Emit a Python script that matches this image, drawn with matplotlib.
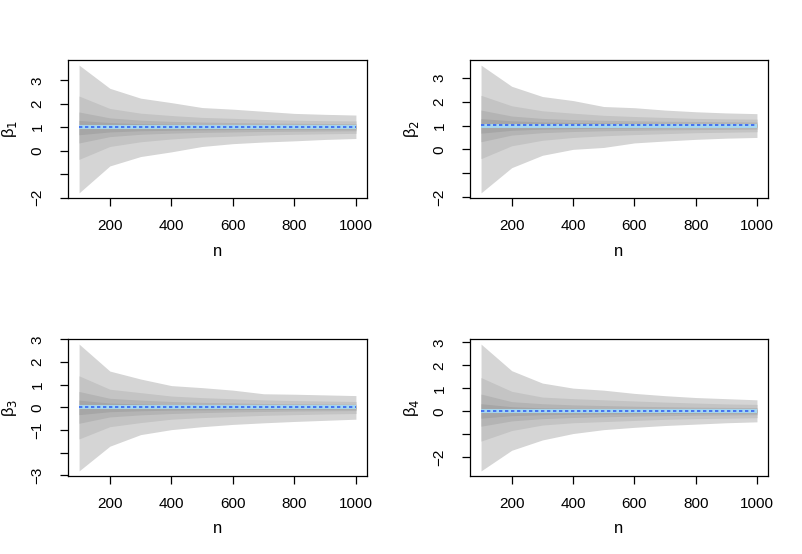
import matplotlib
matplotlib.use('Agg')
import matplotlib.pyplot as plt

plt.rcParams['font.family'] = ['Liberation Sans', 'DejaVu Sans']

n = [100, 200, 300, 400, 500, 600, 700, 800, 900, 1000]

# true values of the coefficients
beta_true = [1, 1, 0, 0]
beta_names = ['β$_1$', 'β$_2$', 'β$_3$', 'β$_4$']

# bands, outer to inner: upper limits then lower limits
b1_upper = [[3.65, 2.66, 2.24, 2.05, 1.84, 1.77, 1.68, 1.59, 1.55, 1.52],
            [2.33, 1.80, 1.60, 1.50, 1.42, 1.38, 1.33, 1.30, 1.28, 1.27],
            [1.65, 1.40, 1.30, 1.25, 1.22, 1.20, 1.18, 1.17, 1.16, 1.15],
            [1.29, 1.20, 1.15, 1.13, 1.11, 1.10, 1.09, 1.08, 1.08, 1.07]]
b1_lower = [[-1.80, -0.65, -0.25, -0.05, 0.18, 0.30, 0.37, 0.42, 0.48, 0.52],
            [-0.37, 0.18, 0.38, 0.50, 0.58, 0.62, 0.67, 0.70, 0.72, 0.74],
            [0.33, 0.60, 0.70, 0.75, 0.78, 0.80, 0.82, 0.83, 0.84, 0.85],
            [0.68, 0.80, 0.85, 0.87, 0.89, 0.90, 0.91, 0.92, 0.92, 0.93]]

b2_upper = [[3.54, 2.65, 2.22, 2.05, 1.80, 1.75, 1.65, 1.58, 1.53, 1.50],
            [2.27, 1.83, 1.62, 1.52, 1.43, 1.38, 1.34, 1.30, 1.28, 1.27],
            [1.65, 1.40, 1.30, 1.25, 1.22, 1.20, 1.18, 1.17, 1.16, 1.15],
            [1.29, 1.20, 1.15, 1.13, 1.11, 1.10, 1.09, 1.08, 1.08, 1.07]]
b2_lower = [[-1.83, -0.77, -0.25, 0.00, 0.08, 0.27, 0.35, 0.42, 0.47, 0.50],
            [-0.39, 0.15, 0.38, 0.50, 0.57, 0.62, 0.66, 0.70, 0.72, 0.74],
            [0.32, 0.60, 0.70, 0.75, 0.78, 0.80, 0.82, 0.83, 0.84, 0.85],
            [0.68, 0.80, 0.85, 0.87, 0.89, 0.90, 0.91, 0.92, 0.92, 0.93]]

b3_upper = [[2.79, 1.60, 1.25, 0.96, 0.87, 0.76, 0.60, 0.58, 0.55, 0.52],
            [1.39, 0.80, 0.65, 0.50, 0.43, 0.38, 0.33, 0.30, 0.28, 0.26],
            [0.70, 0.40, 0.32, 0.26, 0.22, 0.20, 0.17, 0.16, 0.15, 0.14],
            [0.32, 0.19, 0.15, 0.12, 0.11, 0.10, 0.09, 0.08, 0.08, 0.07]]
b3_lower = [[-2.80, -1.71, -1.20, -0.98, -0.85, -0.75, -0.68, -0.62, -0.57, -0.52],
            [-1.39, -0.85, -0.67, -0.52, -0.45, -0.40, -0.35, -0.32, -0.29, -0.27],
            [-0.70, -0.42, -0.33, -0.27, -0.23, -0.20, -0.18, -0.16, -0.15, -0.14],
            [-0.32, -0.19, -0.15, -0.12, -0.11, -0.10, -0.09, -0.08, -0.08, -0.07]]

b4_upper = [[2.93, 1.77, 1.23, 1.01, 0.92, 0.78, 0.68, 0.60, 0.55, 0.50],
            [1.47, 0.87, 0.62, 0.55, 0.50, 0.45, 0.40, 0.36, 0.32, 0.30],
            [0.75, 0.42, 0.33, 0.28, 0.25, 0.22, 0.20, 0.18, 0.17, 0.16],
            [0.33, 0.20, 0.15, 0.13, 0.12, 0.11, 0.10, 0.09, 0.08, 0.08]]
b4_lower = [[-2.60, -1.70, -1.25, -0.97, -0.80, -0.70, -0.62, -0.56, -0.50, -0.46],
            [-1.30, -0.84, -0.60, -0.50, -0.45, -0.40, -0.35, -0.32, -0.30, -0.28],
            [-0.65, -0.42, -0.32, -0.27, -0.24, -0.21, -0.19, -0.17, -0.16, -0.15],
            [-0.30, -0.19, -0.15, -0.13, -0.12, -0.11, -0.10, -0.09, -0.08, -0.07]]

# mean estimates (dotted blue line)
b1_mean = [1.00, 1.00, 1.00, 1.00, 1.00, 1.00, 1.00, 1.00, 1.00, 1.00]
b2_mean = [1.01, 1.01, 1.01, 1.01, 1.01, 1.01, 1.01, 1.01, 1.01, 1.01]
b3_mean = [0.00, 0.00, 0.00, 0.00, 0.00, 0.00, 0.00, 0.00, 0.00, 0.00]
b4_mean = [0.00, 0.00, 0.00, 0.00, 0.00, 0.00, 0.00, 0.00, 0.00, 0.00]

# y tick labels (R drops some that would overlap)
yticks = [[-2, -1, 0, 1, 2, 3], [-2, -1, 0, 1, 2, 3],
          [-3, -2, -1, 0, 1, 2, 3], [-2, -1, 0, 1, 2, 3]]
ylabels = [['\u22122', '', '0', '1', '2', '3'],
           ['\u22122', '', '0', '1', '2', '3'],
           ['\u22123', '', '\u22121', '0', '1', '2', '3'],
           ['\u22122', '', '0', '1', '2', '3']]

band_cols = ['#d5d5d5', '#c4c4c4', '#b4b4b4', '#a6a6a6']

W, H = 803, 554
boxes = [(68, 60, 367, 198), (470, 60, 768, 198),
         (68, 339, 367, 476), (470, 339, 768, 476)]

fig = plt.figure(figsize=(W / 100, H / 100), dpi=100)

uppers = [b1_upper, b2_upper, b3_upper, b4_upper]
lowers = [b1_lower, b2_lower, b3_lower, b4_lower]
means = [b1_mean, b2_mean, b3_mean, b4_mean]

for i in range(4):
    x0, y0, x1, y1 = boxes[i]
    ax = fig.add_axes([x0 / W, 1 - y1 / H, (x1 - x0) / W, (y1 - y0) / H])
    for k in range(4):
        ax.fill_between(n, lowers[i][k], uppers[i][k], color=band_cols[k], lw=0)
    ax.plot(n, [beta_true[i]] * len(n), color='#a6d8f0', lw=2.8, solid_capstyle='butt')
    ax.plot(n, means[i], color='#3560f0', lw=1.2, dashes=(2, 1.6))

    lo = min(lowers[i][0])
    hi = max(uppers[i][0])
    r = hi - lo
    ax.set_ylim(lo - 0.04 * r, hi + 0.04 * r)
    ax.set_xlim(64, 1036)

    ax.set_xticks([200, 400, 600, 800, 1000])
    ax.set_yticks(yticks[i])
    ax.set_yticklabels(ylabels[i], rotation=90, va='center')
    ax.tick_params(axis='x', length=6, width=0.9, pad=9, labelsize=11)
    ax.tick_params(axis='y', length=6, width=0.9, pad=11, labelsize=11)
    for s in ax.spines.values():
        s.set_linewidth(0.9)

    ax.text(0.5, -0.385, 'n', transform=ax.transAxes, ha='center', va='center', fontsize=12)
    ax.set_ylabel(beta_names[i], fontsize=12)
    ax.yaxis.set_label_coords(-0.165, 0.5)

fig.savefig('out.png', dpi=100)
